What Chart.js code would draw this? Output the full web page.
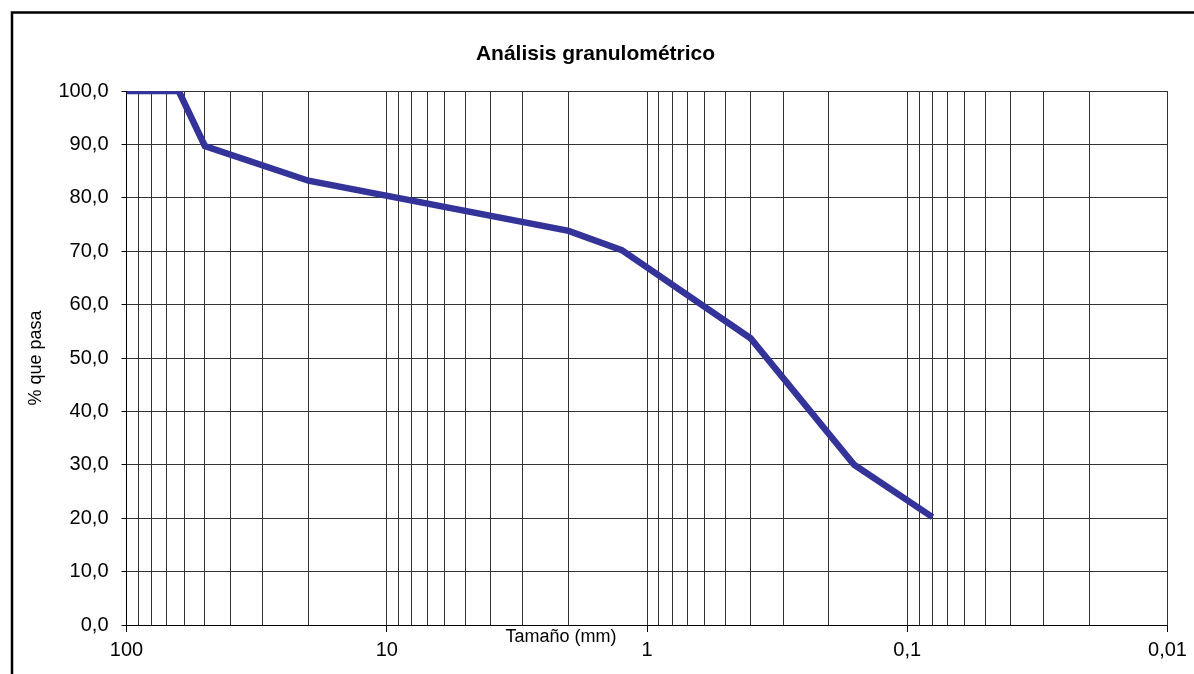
<!DOCTYPE html>
<html>
<head>
<meta charset="utf-8">
<script src="https://cdn.jsdelivr.net/npm/chart.js@4/dist/chart.umd.min.js"></script>
<style>
  html, body { margin: 0; padding: 0; background: #fff; overflow: hidden; }
  #wrap { position: absolute; left: 0; top: 0; width: 1194px; height: 674px; overflow: hidden; }
  canvas { display: block; }
</style>
</head>
<body>
<div id="wrap"><canvas id="chart" width="1194" height="674"></canvas></div>
<script>
// Sieve sizes (mm) and percent passing
var sizes = [100, 63, 50, 20, 2, 1.25, 0.4, 0.16, 0.08]
var passing = [100, 100, 89.7, 83.2, 73.8, 70.2, 53.7, 30.0, 20.2]

// Labelled decades on the x axis
var xTickValues = [100, 10, 1, 0.1, 0.01]
var xTickLabels = ['100', '10', '1', '0,1', '0,01']

var font = '"Liberation Sans", Arial, sans-serif'
Chart.defaults.font.family = font
Chart.defaults.color = '#000'

function isMajor(v) {
  var l = Math.log10(v)
  return Math.abs(l - Math.round(l)) < 1e-9
}

// Grid lines at 1..9 of every decade between 0.01 and 100
var gridValues = []
for (var k = -2; k <= 1; k++) {
  for (var m = 1; m <= 9; m++) {
    gridValues.push(parseFloat((m * Math.pow(10, k)).toPrecision(6)))
  }
}
gridValues.push(100)

var points = []
for (var i = 0; i < sizes.length; i++) {
  points.push({ x: sizes[i], y: passing[i] })
}

var framePlugin = {
  id: 'frame',
  beforeDraw: function (chart) {
    var ctx = chart.ctx
    ctx.save()
    ctx.strokeStyle = '#000'
    ctx.lineWidth = 2.5
    ctx.strokeRect(12, 12.5, 1300, 800)
    ctx.restore()
  },
  afterDraw: function (chart) {
    var ctx = chart.ctx
    ctx.save()
    ctx.font = '18px ' + font
    ctx.fillStyle = '#000'
    ctx.textAlign = 'center'
    ctx.textBaseline = 'alphabetic'
    ctx.fillText('Tamaño (mm)', 561, 642)
    ctx.restore()
  }
}

var chart = new Chart(document.getElementById('chart'), {
  type: 'line',
  data: {
    datasets: [{
      label: '% que pasa',
      data: points,
      borderColor: '#333399',
      backgroundColor: '#333399',
      borderWidth: 6.5,
      pointRadius: 0,
      tension: 0,
      fill: false
    }]
  },
  plugins: [framePlugin],
  options: {
    responsive: false,
    animation: false,
    layout: { padding: { left: 23.5, right: 26.5, top: 0, bottom: 0 } },
    plugins: {
      legend: { display: false },
      tooltip: { enabled: false },
      title: {
        display: true,
        text: 'Análisis granulométrico',
        font: { size: 21, weight: 'bold' },
        color: '#000',
        padding: { top: 42, bottom: 23.8 }
      }
    },
    scales: {
      x: {
        type: 'logarithmic',
        reverse: true,
        min: 0.01,
        max: 100,
        afterBuildTicks: function (scale) {
          scale.ticks = gridValues.map(function (v) { return { value: v } })
        },
        afterFit: function (scale) { scale.height = 49 },
        ticks: {
          autoSkip: false,
          maxRotation: 0,
          padding: 6,
          font: { size: 20 },
          color: '#000',
          callback: function (value) {
            for (var j = 0; j < xTickValues.length; j++) {
              if (Math.abs(value - xTickValues[j]) < 1e-9) return xTickLabels[j]
            }
            return ''
          }
        },
        grid: {
          color: '#333',
          lineWidth: 1,
          tickLength: 7,
          tickColor: function (ctx) {
            return ctx.tick && isMajor(ctx.tick.value) ? '#000' : 'rgba(0,0,0,0)'
          }
        },
        border: { color: '#000', width: 1 }
      },
      y: {
        min: 0,
        max: 100,
        afterFit: function (scale) { scale.width = 103 },
        ticks: {
          stepSize: 10,
          padding: 13,
          font: { size: 20 },
          color: '#000',
          callback: function (value) { return value.toFixed(1).replace('.', ',') }
        },
        grid: { color: '#333', lineWidth: 1, tickLength: 5, tickColor: '#000' },
        border: { color: '#000', width: 1 },
        title: {
          display: true,
          text: '% que pasa',
          font: { size: 18 },
          color: '#000',
          padding: { top: 1.5, bottom: 0 }
        }
      }
    }
  }
})
</script>
</body>
</html>
